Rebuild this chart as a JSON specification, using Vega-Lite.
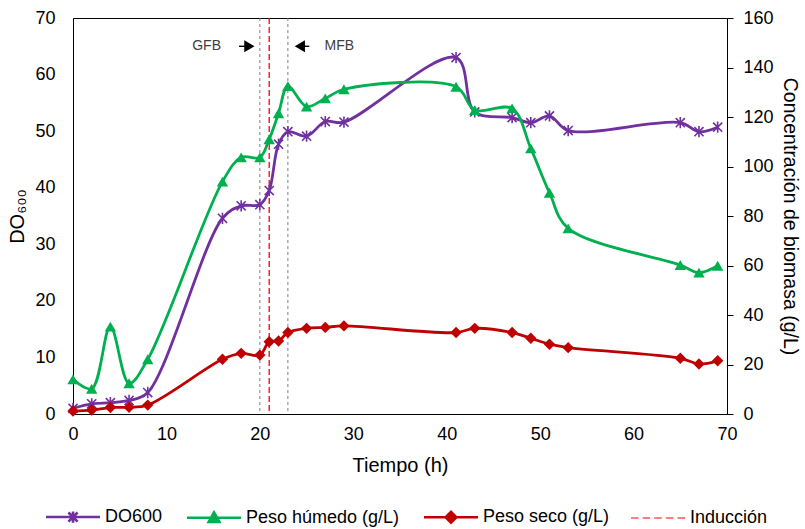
{
  "$schema": "https://vega.github.io/schema/vega-lite/v6.json",
  "width": 654,
  "height": 396,
  "autosize": {"type": "none"},
  "padding": {"left": 73, "top": 18, "right": 78, "bottom": 115},
  "background": "white",
  "config": {
    "font": "Liberation Sans",
    "view": {"stroke": "#000", "strokeWidth": 1},
    "axis": {
      "grid": false,
      "domainColor": "#000",
      "tickColor": "#000",
      "labelColor": "#000",
      "titleColor": "#000",
      "labelFont": "Liberation Sans",
      "titleFont": "Liberation Sans",
      "labelFontSize": 18,
      "titleFontSize": 20,
      "titleFontWeight": "normal"
    }
  },
  "datasets": {
    "do600": [
      {"t": 0, "serie": "DO600", "valor": 1.0},
      {"t": 2, "serie": "DO600", "valor": 1.8},
      {"t": 4, "serie": "DO600", "valor": 2.0},
      {"t": 6, "serie": "DO600", "valor": 2.4},
      {"t": 8, "serie": "DO600", "valor": 3.8},
      {"t": 16, "serie": "DO600", "valor": 34.6},
      {"t": 18, "serie": "DO600", "valor": 36.8},
      {"t": 20, "serie": "DO600", "valor": 37.0},
      {"t": 21, "serie": "DO600", "valor": 39.5},
      {"t": 22, "serie": "DO600", "valor": 47.7},
      {"t": 23, "serie": "DO600", "valor": 49.9},
      {"t": 25, "serie": "DO600", "valor": 49.1},
      {"t": 27, "serie": "DO600", "valor": 51.7},
      {"t": 29, "serie": "DO600", "valor": 51.6},
      {"t": 41, "serie": "DO600", "valor": 63.0},
      {"t": 43, "serie": "DO600", "valor": 53.4},
      {"t": 47, "serie": "DO600", "valor": 52.4},
      {"t": 49, "serie": "DO600", "valor": 51.5},
      {"t": 51, "serie": "DO600", "valor": 52.7},
      {"t": 53, "serie": "DO600", "valor": 50.1},
      {"t": 65, "serie": "DO600", "valor": 51.5},
      {"t": 67, "serie": "DO600", "valor": 49.9},
      {"t": 69, "serie": "DO600", "valor": 50.7}
    ],
    "biomasa": [
      {"t": 0, "serie": "Peso húmedo (g/L)", "valor": 14.0},
      {"t": 2, "serie": "Peso húmedo (g/L)", "valor": 10.2},
      {"t": 4, "serie": "Peso húmedo (g/L)", "valor": 35.3},
      {"t": 6, "serie": "Peso húmedo (g/L)", "valor": 12.4},
      {"t": 8, "serie": "Peso húmedo (g/L)", "valor": 22.1},
      {"t": 16, "serie": "Peso húmedo (g/L)", "valor": 93.9},
      {"t": 18, "serie": "Peso húmedo (g/L)", "valor": 103.7},
      {"t": 20, "serie": "Peso húmedo (g/L)", "valor": 103.7},
      {"t": 21, "serie": "Peso húmedo (g/L)", "valor": 111.0},
      {"t": 22, "serie": "Peso húmedo (g/L)", "valor": 121.5},
      {"t": 23, "serie": "Peso húmedo (g/L)", "valor": 132.5},
      {"t": 25, "serie": "Peso húmedo (g/L)", "valor": 124.2},
      {"t": 27, "serie": "Peso húmedo (g/L)", "valor": 127.5},
      {"t": 29, "serie": "Peso húmedo (g/L)", "valor": 131.2},
      {"t": 41, "serie": "Peso húmedo (g/L)", "valor": 132.2},
      {"t": 43, "serie": "Peso húmedo (g/L)", "valor": 122.8},
      {"t": 47, "serie": "Peso húmedo (g/L)", "valor": 123.5},
      {"t": 49, "serie": "Peso húmedo (g/L)", "valor": 107.3},
      {"t": 51, "serie": "Peso húmedo (g/L)", "valor": 89.4},
      {"t": 53, "serie": "Peso húmedo (g/L)", "valor": 75.0},
      {"t": 65, "serie": "Peso húmedo (g/L)", "valor": 60.2},
      {"t": 67, "serie": "Peso húmedo (g/L)", "valor": 57.1},
      {"t": 69, "serie": "Peso húmedo (g/L)", "valor": 59.9},
      {"t": 0, "serie": "Peso seco (g/L)", "valor": 1.2},
      {"t": 2, "serie": "Peso seco (g/L)", "valor": 1.6},
      {"t": 4, "serie": "Peso seco (g/L)", "valor": 2.6},
      {"t": 6, "serie": "Peso seco (g/L)", "valor": 2.7},
      {"t": 8, "serie": "Peso seco (g/L)", "valor": 3.6},
      {"t": 16, "serie": "Peso seco (g/L)", "valor": 22.1},
      {"t": 18, "serie": "Peso seco (g/L)", "valor": 24.5},
      {"t": 20, "serie": "Peso seco (g/L)", "valor": 23.8},
      {"t": 21, "serie": "Peso seco (g/L)", "valor": 29.2},
      {"t": 22, "serie": "Peso seco (g/L)", "valor": 29.5},
      {"t": 23, "serie": "Peso seco (g/L)", "valor": 32.9},
      {"t": 25, "serie": "Peso seco (g/L)", "valor": 34.6},
      {"t": 27, "serie": "Peso seco (g/L)", "valor": 35.0},
      {"t": 29, "serie": "Peso seco (g/L)", "valor": 35.6},
      {"t": 41, "serie": "Peso seco (g/L)", "valor": 32.9},
      {"t": 43, "serie": "Peso seco (g/L)", "valor": 34.6},
      {"t": 47, "serie": "Peso seco (g/L)", "valor": 32.9},
      {"t": 49, "serie": "Peso seco (g/L)", "valor": 30.6},
      {"t": 51, "serie": "Peso seco (g/L)", "valor": 28.2},
      {"t": 53, "serie": "Peso seco (g/L)", "valor": 26.8},
      {"t": 65, "serie": "Peso seco (g/L)", "valor": 22.5},
      {"t": 67, "serie": "Peso seco (g/L)", "valor": 20.2},
      {"t": 69, "serie": "Peso seco (g/L)", "valor": 21.5}
    ],
    "fases": [
      {"t": 20, "fase": "GFB"},
      {"t": 23, "fase": "MFB"}
    ],
    "induccion": [
      {"t": 21, "serie": "Inducción"}
    ],
    "etiquetas": [
      {"texto": "GFB", "t": 14.3, "y": 65},
      {"texto": "MFB", "t": 28.5, "y": 65}
    ],
    "flechas": [
      {"fase": "GFB", "desde": 17.77, "hasta": 18.95, "punta": 18.88, "forma": "triangle-right", "y": 65},
      {"fase": "MFB", "desde": 24.2, "hasta": 25.29, "punta": 24.28, "forma": "triangle-left", "y": 65}
    ]
  },
  "encoding": {
    "x": {
      "field": "t",
      "type": "quantitative",
      "scale": {"domain": [0, 70], "nice": false},
      "axis": {
        "title": "Tiempo (h)",
        "values": [0, 10, 20, 30, 40, 50, 60, 70],
        "ticks": false,
        "tickSize": 0,
        "labelPadding": 11,
        "titlePadding": 12,
        "labelFlush": false
      }
    }
  },
  "layer": [
    {
      "layer": [
        {
          "data": {"name": "fases"},
          "mark": {"type": "rule", "color": "#7f7f7f", "strokeWidth": 1, "strokeDash": [3, 3]},
          "encoding": {}
        },
        {
          "data": {"name": "induccion"},
          "mark": {"type": "rule", "strokeWidth": 1.3, "strokeDash": [6, 3]},
          "encoding": {
            "color": {"field": "serie", "type": "nominal"}
          }
        },
        {
          "data": {"name": "etiquetas"},
          "mark": {"type": "text", "fontSize": 14, "color": "#404040", "font": "Liberation Sans", "baseline": "middle"},
          "encoding": {
            "y": {"field": "y", "type": "quantitative"},
            "text": {"field": "texto"}
          }
        },
        {
          "data": {"name": "flechas"},
          "mark": {"type": "rule", "color": "#000", "strokeWidth": 1.4},
          "encoding": {
            "x": {"field": "desde", "type": "quantitative"},
            "x2": {"field": "hasta"},
            "y": {"field": "y", "type": "quantitative"}
          }
        },
        {
          "data": {"name": "flechas"},
          "mark": {"type": "point", "filled": true, "color": "#000", "opacity": 1, "size": 140},
          "encoding": {
            "x": {"field": "punta", "type": "quantitative"},
            "y": {"field": "y", "type": "quantitative"},
            "shape": {"field": "forma", "type": "nominal", "scale": null, "legend": null}
          }
        },
        {
          "data": {"name": "do600"},
          "mark": {"type": "line", "interpolate": "catmull-rom", "strokeWidth": 2.8},
          "encoding": {
            "y": {
              "field": "valor",
              "type": "quantitative",
              "scale": {"domain": [0, 70], "nice": false},
              "axis": {
                "title": "DO₆₀₀",
                "values": [0, 10, 20, 30, 40, 50, 60, 70],
                "ticks": false,
                "tickSize": 0,
                "labelPadding": 18,
                "titlePadding": 7,
                "labelFlush": false
              }
            },
            "color": {"field": "serie", "type": "nominal"}
          }
        },
        {
          "data": {"name": "do600"},
          "mark": {
            "type": "point",
            "filled": false,
            "opacity": 1,
            "strokeWidth": 1.6,
            "size": 115,
            "shape": "M-0.85,-0.85L0.85,0.85M-0.85,0.85L0.85,-0.85M0,-1.05L0,1.05"
          },
          "encoding": {
            "y": {"field": "valor", "type": "quantitative"},
            "color": {"field": "serie", "type": "nominal"}
          }
        }
      ]
    },
    {
      "data": {"name": "biomasa"},
      "layer": [
        {
          "mark": {"type": "line", "interpolate": "catmull-rom", "strokeWidth": 2.8},
          "encoding": {}
        },
        {
          "mark": {"type": "point", "filled": true, "opacity": 1, "size": 130},
          "encoding": {
            "shape": {
              "field": "serie",
              "type": "nominal",
              "scale": {"domain": ["Peso húmedo (g/L)", "Peso seco (g/L)"], "range": ["triangle-up", "diamond"]},
              "legend": null
            }
          }
        }
      ],
      "encoding": {
        "y": {
          "field": "valor",
          "type": "quantitative",
          "scale": {"domain": [0, 160], "nice": false},
          "axis": {
            "orient": "right",
            "title": "Concentración de biomasa (g/L)",
            "values": [0, 20, 40, 60, 80, 100, 120, 140, 160],
            "ticks": true,
            "tickSize": 6,
            "labelPadding": 10,
            "titlePadding": 6,
            "titleFontSize": 19.5,
            "labelFlush": false
          }
        },
        "color": {
          "field": "serie",
          "type": "nominal",
          "scale": {
            "domain": ["DO600", "Peso húmedo (g/L)", "Peso seco (g/L)", "Inducción"],
            "range": ["#7030A0", "#00B050", "#C00000", "#FF0000"]
          },
          "legend": {
            "title": null,
            "orient": "none",
            "direction": "horizontal",
            "legendX": -27,
            "legendY": 490,
            "padding": 0,
            "columnPadding": 18,
            "labelFontSize": 18,
            "labelFont": "Liberation Sans",
            "labelColor": "#000",
            "symbolSize": 2916,
            "symbolLimit": 0,
            "encode": {
              "symbols": {
                "update": {
                  "x": {"value": 27},
                  "shape": {"signal": "datum.value === 'DO600' ? 'M-1,0L1,0M-0.17,-0.17L0.17,0.17M-0.17,0.17L0.17,-0.17M0,-0.21L0,0.21' : datum.value === 'Inducción' ? 'M-1,0L-0.72,0M-0.57,0L-0.29,0M-0.14,0L0.14,0M0.29,0L0.57,0M0.72,0L1,0' : datum.value === 'Peso seco (g/L)' ? 'M-1,0L1,0M0,-0.2L0.2,0L0,0.2L-0.2,0Z' : 'M-1,0L1,0M-0.2,0.16L0,-0.2L0.2,0.16Z'"},
                  "strokeWidth": {"signal": "datum.value === 'Inducción' ? 1.2 : 2.6"},
                  "fill": {"scale": "color", "field": "value"},
                  "stroke": {"scale": "color", "field": "value"},
                  "opacity": {"value": 1},
                  "fillOpacity": {"value": 1},
                  "strokeOpacity": {"value": 1}
                }
              },
              "labels": {
                "update": {
                  "x": {"value": 59}
                }
              }
            }
          }
        }
      }
    }
  ],
  "resolve": {"scale": {"y": "independent"}}
}
